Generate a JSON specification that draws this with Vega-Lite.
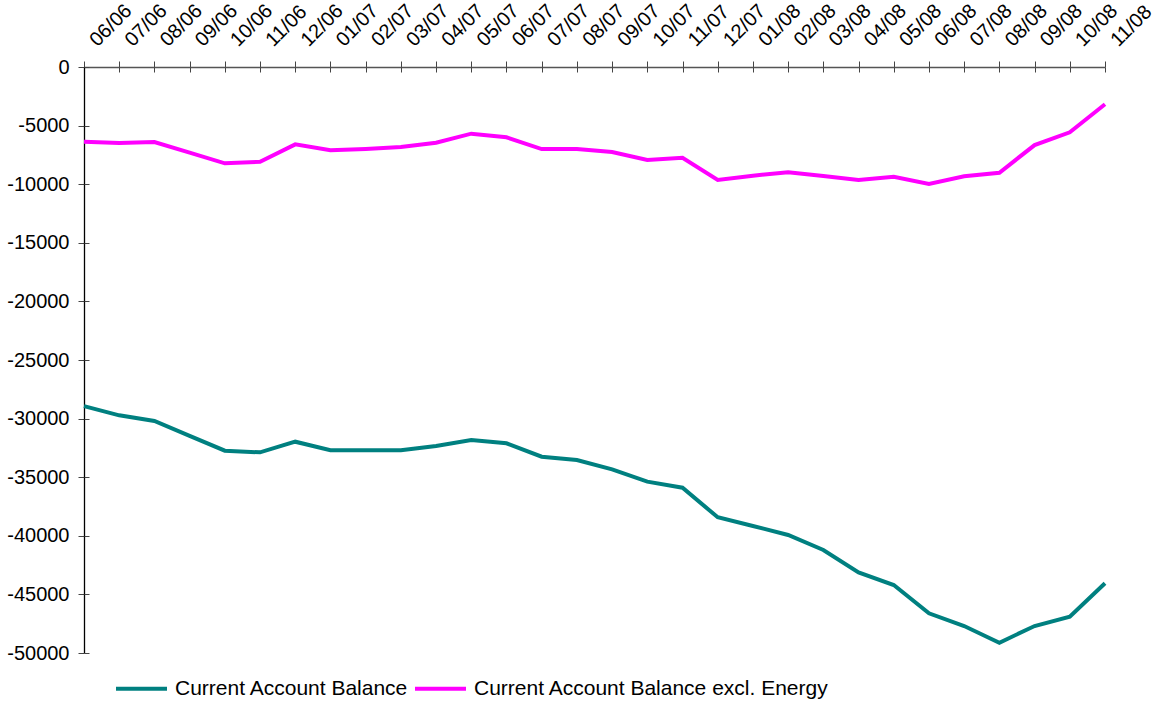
{
  "$schema": "https://vega.github.io/schema/vega-lite/v6.json",
  "width": 1021,
  "height": 586,
  "autosize": "none",
  "padding": {"left": 84, "top": 67, "right": 51, "bottom": 49},
  "background": "white",
  "config": {
    "view": {"stroke": null},
    "font": "Liberation Sans"
  },
  "data": {
    "values": [
      {"m": "06/06", "s": "Current Account Balance", "v": -28930},
      {"m": "07/06", "s": "Current Account Balance", "v": -29720},
      {"m": "08/06", "s": "Current Account Balance", "v": -30200},
      {"m": "09/06", "s": "Current Account Balance", "v": -31480},
      {"m": "10/06", "s": "Current Account Balance", "v": -32740},
      {"m": "11/06", "s": "Current Account Balance", "v": -32880},
      {"m": "12/06", "s": "Current Account Balance", "v": -31970},
      {"m": "01/07", "s": "Current Account Balance", "v": -32700},
      {"m": "02/07", "s": "Current Account Balance", "v": -32700},
      {"m": "03/07", "s": "Current Account Balance", "v": -32700},
      {"m": "04/07", "s": "Current Account Balance", "v": -32340},
      {"m": "05/07", "s": "Current Account Balance", "v": -31830},
      {"m": "06/07", "s": "Current Account Balance", "v": -32110},
      {"m": "07/07", "s": "Current Account Balance", "v": -33250},
      {"m": "08/07", "s": "Current Account Balance", "v": -33530},
      {"m": "09/07", "s": "Current Account Balance", "v": -34330},
      {"m": "10/07", "s": "Current Account Balance", "v": -35380},
      {"m": "11/07", "s": "Current Account Balance", "v": -35900},
      {"m": "12/07", "s": "Current Account Balance", "v": -38420},
      {"m": "01/08", "s": "Current Account Balance", "v": -39160},
      {"m": "02/08", "s": "Current Account Balance", "v": -39930},
      {"m": "03/08", "s": "Current Account Balance", "v": -41210},
      {"m": "04/08", "s": "Current Account Balance", "v": -43120},
      {"m": "05/08", "s": "Current Account Balance", "v": -44200},
      {"m": "06/08", "s": "Current Account Balance", "v": -46610},
      {"m": "07/08", "s": "Current Account Balance", "v": -47700},
      {"m": "08/08", "s": "Current Account Balance", "v": -49120},
      {"m": "09/08", "s": "Current Account Balance", "v": -47700},
      {"m": "10/08", "s": "Current Account Balance", "v": -46900},
      {"m": "11/08", "s": "Current Account Balance", "v": -44050},
      {"m": "06/06", "s": "Current Account Balance excl. Energy", "v": -6370},
      {"m": "07/06", "s": "Current Account Balance excl. Energy", "v": -6480},
      {"m": "08/06", "s": "Current Account Balance excl. Energy", "v": -6400},
      {"m": "09/06", "s": "Current Account Balance excl. Energy", "v": -7300},
      {"m": "10/06", "s": "Current Account Balance excl. Energy", "v": -8220},
      {"m": "11/06", "s": "Current Account Balance excl. Energy", "v": -8080},
      {"m": "12/06", "s": "Current Account Balance excl. Energy", "v": -6600},
      {"m": "01/07", "s": "Current Account Balance excl. Energy", "v": -7110},
      {"m": "02/07", "s": "Current Account Balance excl. Energy", "v": -7000},
      {"m": "03/07", "s": "Current Account Balance excl. Energy", "v": -6830},
      {"m": "04/07", "s": "Current Account Balance excl. Energy", "v": -6460},
      {"m": "05/07", "s": "Current Account Balance excl. Energy", "v": -5690},
      {"m": "06/07", "s": "Current Account Balance excl. Energy", "v": -6000},
      {"m": "07/07", "s": "Current Account Balance excl. Energy", "v": -7000},
      {"m": "08/07", "s": "Current Account Balance excl. Energy", "v": -7000},
      {"m": "09/07", "s": "Current Account Balance excl. Energy", "v": -7250},
      {"m": "10/07", "s": "Current Account Balance excl. Energy", "v": -7940},
      {"m": "11/07", "s": "Current Account Balance excl. Energy", "v": -7740},
      {"m": "12/07", "s": "Current Account Balance excl. Energy", "v": -9640},
      {"m": "01/08", "s": "Current Account Balance excl. Energy", "v": -9270},
      {"m": "02/08", "s": "Current Account Balance excl. Energy", "v": -8990},
      {"m": "03/08", "s": "Current Account Balance excl. Energy", "v": -9300},
      {"m": "04/08", "s": "Current Account Balance excl. Energy", "v": -9640},
      {"m": "05/08", "s": "Current Account Balance excl. Energy", "v": -9360},
      {"m": "06/08", "s": "Current Account Balance excl. Energy", "v": -9980},
      {"m": "07/08", "s": "Current Account Balance excl. Energy", "v": -9330},
      {"m": "08/08", "s": "Current Account Balance excl. Energy", "v": -9020},
      {"m": "09/08", "s": "Current Account Balance excl. Energy", "v": -6660},
      {"m": "10/08", "s": "Current Account Balance excl. Energy", "v": -5570},
      {"m": "11/08", "s": "Current Account Balance excl. Energy", "v": -3180}
    ]
  },
  "resolve": {"axis": {"x": "independent", "y": "independent"}},
  "layer": [
    {
      "mark": {"type": "line", "strokeWidth": 4, "strokeJoin": "miter"},
      "encoding": {
        "x": {
          "field": "m", "type": "ordinal", "sort": null,
          "scale": {"type": "point", "padding": 0},
          "axis": {
            "orient": "top", "title": null, "labelAngle": -45,
            "labelAlign": "left", "labelBaseline": "alphabetic",
            "labelOffset": 13, "labelPadding": 14,
            "labelFontSize": 20, "labelColor": "#000", "labelFont": "Liberation Sans",
            "tickSize": 6, "tickColor": "#444", "domainColor": "#555", "domainWidth": 1.3,
            "labelOverlap": false
          }
        },
        "y": {
          "field": "v", "type": "quantitative",
          "scale": {"domain": [-50000, 0], "nice": false, "zero": false},
          "axis": {
            "orient": "left", "title": null, "values": [0, -5000, -10000, -15000, -20000, -25000, -30000, -35000, -40000, -45000, -50000],
            "labelExpr": "'' + datum.value", "grid": false, "labelFontSize": 20, "labelColor": "#000", "labelFont": "Liberation Sans",
            "labelPadding": 9, "tickSize": 6, "tickColor": "#444", "domainColor": "#000", "domainWidth": 1.3
          }
        },
        "color": {
          "field": "s", "type": "nominal",
          "scale": {"domain": ["Current Account Balance", "Current Account Balance excl. Energy"], "range": ["#008080", "#FF00FF"]},
          "legend": {
            "orient": "none", "direction": "horizontal", "title": null,
            "legendX": 30, "legendY": 594,
            "symbolType": "stroke", "symbolSize": 2601, "symbolStrokeWidth": 4,
            "labelFontSize": 21, "labelColor": "#000", "labelFont": "Liberation Sans",
            "labelOffset": 6, "columnPadding": -2, "labelLimit": 600
          }
        }
      }
    },
    {
      "mark": {"type": "line", "strokeOpacity": 0},
      "encoding": {
        "x": {
          "field": "m", "type": "ordinal", "sort": null,
          "scale": {"type": "point", "padding": 0},
          "axis": {"orient": "top", "title": null, "labels": false, "domain": false, "tickSize": -5, "tickColor": "#444"}
        },
        "y": {
          "field": "v", "type": "quantitative",
          "scale": {"domain": [-50000, 0], "nice": false, "zero": false},
          "axis": {"orient": "left", "title": null, "labels": false, "domain": false, "grid": false,
            "values": [0, -5000, -10000, -15000, -20000, -25000, -30000, -35000, -40000, -45000, -50000],
            "tickSize": -5, "tickColor": "#444"}
        }
      }
    }
  ]
}
